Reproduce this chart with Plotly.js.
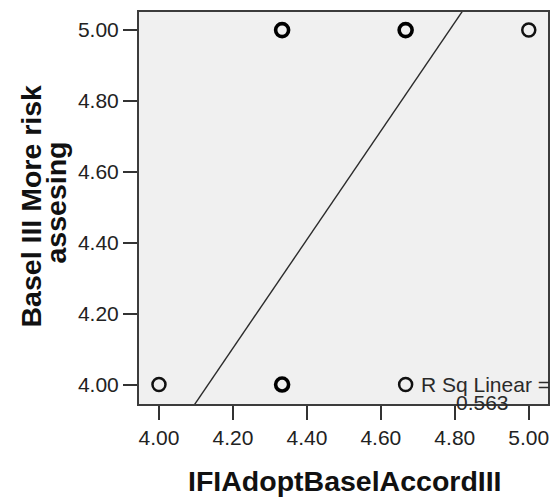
<!DOCTYPE html>
<html>
<head>
<meta charset="utf-8">
<script src="https://cdn.plot.ly/plotly-3.0.1.min.js"></script>
<style>
html, body { margin: 0; padding: 0; background: #ffffff; }
#chart { width: 550px; height: 498px; }
</style>
</head>
<body>
<div id="chart"></div>
<script>
// ---- data ----
const xValues = [4.000, 4.333, 4.667, 4.333, 4.667, 5.000];
const yValues = [4.00, 4.00, 4.00, 5.00, 5.00, 5.00];
const overplotted = [false, true, false, true, true, false];
const fitSlope = 1.532;
const fitIntercept = -2.332;
const fitXEnds = [3.90, 5.10];
const rSquared = 0.563;
const tickValues = [4.0, 4.2, 4.4, 4.6, 4.8, 5.0];
const tickLabels = ['4.00', '4.20', '4.40', '4.60', '4.80', '5.00'];
const xTitle = 'IFIAdoptBaselAccordIII';
const yTitleLines = ['Basel III More risk', 'assesing'];

// ---- build traces ----
const single = { x: [], y: [] };
const multi = { x: [], y: [] };
xValues.forEach((xv, i) => {
  const t = overplotted[i] ? multi : single;
  t.x.push(xv); t.y.push(yValues[i]);
});

const fitY = fitXEnds.map(v => fitIntercept + fitSlope * v);

const font = '"Liberation Sans", Arial, Helvetica, sans-serif';

const traces = [
  {
    x: fitXEnds, y: fitY, mode: 'lines', type: 'scatter',
    line: { color: '#2b2b2b', width: 1.4 }, hoverinfo: 'skip', showlegend: false
  },
  {
    x: single.x, y: single.y, mode: 'markers', type: 'scatter',
    marker: { symbol: 'circle-open', size: 13, color: '#111111', line: { width: 2.5, color: '#111111' } },
    showlegend: false, cliponaxis: false
  },
  {
    x: multi.x, y: multi.y, mode: 'markers', type: 'scatter',
    marker: { symbol: 'circle-open', size: 13, color: '#000000', line: { width: 3.6, color: '#000000' } },
    showlegend: false, cliponaxis: false
  }
];

const L = 139, R = 2, T = 12, B = 94;
const W = 550, H = 498;
const pw = W - L - R, ph = H - T - B;
const px = v => (v - L) / pw;
const py = v => (H - B - v) / ph;

const axisCommon = {
  range: [3.946, 5.052],
  tickvals: tickValues,
  ticktext: tickLabels,
  ticks: 'outside',
  ticklen: 14,
  tickwidth: 2,
  tickcolor: '#333333',
  showline: true,
  linewidth: 2,
  linecolor: '#3c3c3c',
  mirror: true,
  showgrid: false,
  zeroline: false,
  tickfont: { family: font, size: 21, color: '#222222' },
  fixedrange: true
};

const layout = {
  width: W, height: H,
  margin: { l: L, r: R, t: T, b: B, pad: 0 },
  paper_bgcolor: '#ffffff',
  plot_bgcolor: '#f0f0f0',
  showlegend: false,
  xaxis: Object.assign({}, axisCommon, { range: [3.946, 5.052] }),
  yaxis: Object.assign({}, axisCommon, { range: [3.945, 5.051] }),
  annotations: [
    { text: xTitle, xref: 'paper', yref: 'paper', x: px(344.5), y: py(481), xanchor: 'center', yanchor: 'middle',
      showarrow: false, font: { family: font, size: 28.5, color: '#111111', weight: 'bold' } },
    { text: yTitleLines[0], xref: 'paper', yref: 'paper', x: px(30), y: py(206.5), xanchor: 'center', yanchor: 'middle',
      textangle: -90, showarrow: false, font: { family: font, size: 28.5, color: '#111111', weight: 'bold' } },
    { text: yTitleLines[1], xref: 'paper', yref: 'paper', x: px(55), y: py(202.5), xanchor: 'center', yanchor: 'middle',
      textangle: -90, showarrow: false, font: { family: font, size: 28.5, color: '#111111', weight: 'bold' } },
    { text: 'R Sq Linear =', xref: 'paper', yref: 'paper', x: px(485), y: py(384.7), xanchor: 'center', yanchor: 'middle',
      showarrow: false, font: { family: font, size: 21, color: '#2a2a2a' } },
    { text: rSquared.toFixed(3), xref: 'paper', yref: 'paper', x: px(482), y: py(402.7), xanchor: 'center', yanchor: 'middle',
      showarrow: false, font: { family: font, size: 21, color: '#2a2a2a' } }
  ]
};

Plotly.newPlot('chart', traces, layout, { displayModeBar: false, staticPlot: true });
</script>
</body>
</html>
